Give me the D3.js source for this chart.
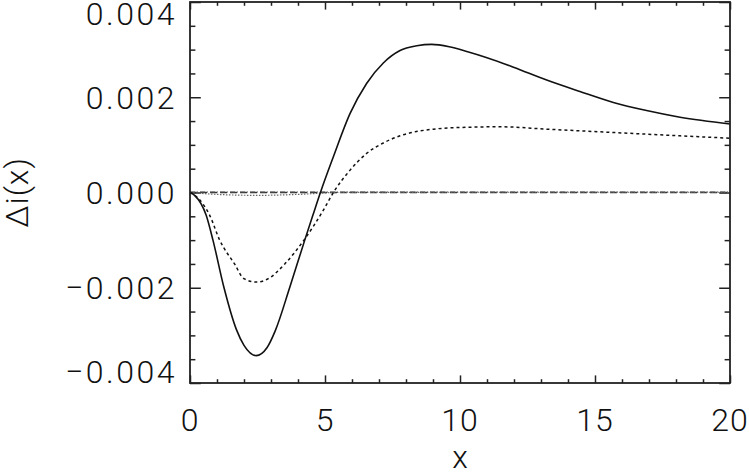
<!DOCTYPE html>
<html>
<head>
<meta charset="utf-8">
<script src="https://cdn.jsdelivr.net/npm/d3@7"></script>
<style>
  html, body { margin: 0; padding: 0; background: #fff; }
  svg text { font-family: "Roboto", "Liberation Sans", Arial, sans-serif; font-weight: 300; fill: #111; }
</style>
</head>
<body>
<svg id="chart" width="749" height="473"></svg>
<script>
// ---- data ----
const xMajorTicks = [0, 5, 10, 15, 20];
const xMinorTicks = [1,2,3,4,6,7,8,9,11,12,13,14,16,17,18,19];
const yMajorTicks = [-0.004, -0.002, 0.000, 0.002, 0.004];
const yMinorTicks = [-0.0035,-0.003,-0.0025,-0.0015,-0.001,-0.0005,0.0005,0.001,0.0015,0.0025,0.003,0.0035];
const yTickLabels = ["\u22120.004", "\u22120.002", "0.000", "0.002", "0.004"];
const xLabel = "x";
const yLabel = "\u0394i(x)";

const solidX = [0,0.17,0.6,0.85,1.26,1.72,2.0,2.45,2.85,3.16,3.69,4.25,4.55,4.83,5.31,5.93,6.54,7.16,7.78,8.4,8.95,9.6,10.25,11.0,11.98,13.21,14.44,15.68,16.91,18.15,20];
const solidY = [0,-0.00006,-0.00048,-0.001,-0.002,-0.00288,-0.00321,-0.003425,-0.00326,-0.0029,-0.002,-0.001,-0.00048,0,0.00075,0.00166,0.00229,0.00272,0.00298,0.00308,0.00311,0.00306,0.00296,0.00283,0.00263,0.00236,0.00212,0.00189,0.00172,0.00158,0.00144];

const dotX = [0,0.3,0.73,1.1,1.65,2.0,2.46,2.9,3.51,4.22,4.94,5.31,5.93,6.54,7.16,7.78,9.01,10.25,11.48,13.21,15.68,18.15,20];
const dotY = [0,-0.00012,-0.00048,-0.001,-0.0015,-0.00181,-0.00188,-0.00181,-0.0015,-0.001,-0.00037,0,0.00047,0.00082,0.00104,0.00119,0.00133,0.00137,0.00138,0.00133,0.00126,0.00119,0.00114];

const smallX = [0,1,2.5,4,5.5,10,20];
const smallY = [0,-0.00004,-0.00006,-0.00004,0,0.000005,0.000005];

const zeroX = [0,20];
const zeroDashY = [0,0];
const zeroDashDotY = [0.00001,0.00001];

// ---- layout ----
const svg = d3.select("#chart");
const x = d3.scaleLinear().domain([0, 20]).range([190, 730]);
const y = d3.scaleLinear().domain([-0.004, 0.004]).range([383, 2]);
const axisColor = "#222";

function styleAxis(g) {
  g.select(".domain").remove();
  g.selectAll("line").attr("stroke", axisColor).attr("stroke-width", 1.5);
}
function addAxis(axisFn, tx, ty, ticks, len) {
  svg.append("g").attr("transform", `translate(${tx},${ty})`)
    .call(axisFn.tickValues(ticks).tickSizeInner(-len).tickSizeOuter(0).tickFormat(""))
    .call(styleAxis);
}
addAxis(d3.axisBottom(x), 0, y(-0.004), xMajorTicks, 7.6);
addAxis(d3.axisBottom(x), 0, y(-0.004), xMinorTicks, 3.8);
addAxis(d3.axisTop(x), 0, y(0.004), xMajorTicks, 7.6);
addAxis(d3.axisTop(x), 0, y(0.004), xMinorTicks, 3.8);
addAxis(d3.axisLeft(y), x(0), 0, yMajorTicks, 10.8);
addAxis(d3.axisLeft(y), x(0), 0, yMinorTicks, 5.4);
addAxis(d3.axisRight(y), x(20), 0, yMajorTicks, 10.8);
addAxis(d3.axisRight(y), x(20), 0, yMinorTicks, 5.4);

// curves
const line = (xs, ys) => d3.line().curve(d3.curveMonotoneX)
  .x((d, i) => x(xs[i])).y((d, i) => y(ys[i]))(xs);

const plot = svg.append("g");
plot.append("path").attr("d", line(zeroX, zeroDashY)).attr("fill", "none")
  .attr("stroke", "#333").attr("stroke-width", 1.5).attr("stroke-dasharray", "7,3");
plot.append("path").attr("d", line(zeroX, zeroDashDotY)).attr("fill", "none")
  .attr("stroke", "#555").attr("stroke-width", 1.2).attr("stroke-dasharray", "5,2,1,2");
plot.append("path").attr("d", line(smallX, smallY)).attr("fill", "none")
  .attr("stroke", "#666").attr("stroke-width", 1.2).attr("stroke-dasharray", "1.5,1.5");
plot.append("path").attr("d", line(dotX, dotY)).attr("fill", "none")
  .attr("stroke", "#111").attr("stroke-width", 1.5).attr("stroke-dasharray", "3,3");
plot.append("path").attr("d", line(solidX, solidY)).attr("fill", "none")
  .attr("stroke", "#111").attr("stroke-width", 1.6);

// frame
svg.append("rect").attr("x", x(0)).attr("y", y(0.004))
  .attr("width", x(20) - x(0)).attr("height", y(-0.004) - y(0.004))
  .attr("fill", "none").attr("stroke", axisColor).attr("stroke-width", 1.8);

// tick labels
const fs = 32;
svg.append("g").selectAll("text").data(xMajorTicks).join("text")
  .attr("x", d => x(d)).attr("y", 431)
  .attr("text-anchor", "middle").attr("font-size", fs).attr("letter-spacing", "1px")
  .text(d => d);
svg.append("g").selectAll("text").data(yMajorTicks).join("text")
  .attr("x", 177)
  .attr("y", (d, i) => i === 0 ? y(d) : (i === yMajorTicks.length - 1 ? y(d) + 22.5 : y(d) + 11.5))
  .attr("text-anchor", "end").attr("font-size", fs).attr("letter-spacing", "2.5px")
  .text((d, i) => yTickLabels[i]);

// axis titles
svg.append("text").attr("x", x(10)).attr("y", 468)
  .attr("text-anchor", "middle").attr("font-size", fs).text(xLabel);
svg.append("text").attr("transform", `translate(28,${y(0)}) rotate(-90)`)
  .attr("text-anchor", "middle").attr("font-size", fs).attr("letter-spacing", "1px").text(yLabel);
</script>
</body>
</html>
